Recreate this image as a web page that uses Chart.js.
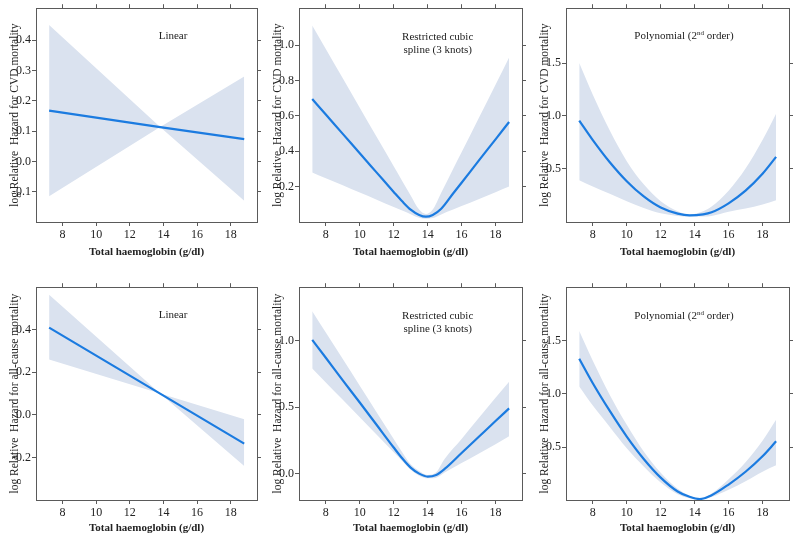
<!DOCTYPE html>
<html lang="en">
<head>
    <meta charset="UTF-8">
    <title>Haemoglobin and mortality</title>
    <script src="https://cdn.jsdelivr.net/npm/chart.js"></script>
    <style>
        body {
            margin: 0;
            background: #fff;
            width: 795px;
            height: 539px;
            position: relative;
            overflow: hidden;
        }
        .panel {
            position: absolute;
        }
    </style>
</head>
<body>
    <div class="panel" id="p1" style="left:0px;top:0px;width:263px;height:270px"><canvas id="c1"></canvas></div>
    <div class="panel" id="p2" style="left:263px;top:0px;width:265px;height:270px"><canvas id="c2"></canvas></div>
    <div class="panel" id="p3" style="left:530px;top:0px;width:265px;height:270px"><canvas id="c3"></canvas></div>
    <div class="panel" id="p4" style="left:0px;top:279px;width:263px;height:260px"><canvas id="c4"></canvas></div>
    <div class="panel" id="p5" style="left:263px;top:279px;width:265px;height:260px"><canvas id="c5"></canvas></div>
    <div class="panel" id="p6" style="left:530px;top:279px;width:265px;height:260px"><canvas id="c6"></canvas></div>

    <script>
        // x ticks shared by all panels
        const hbTicks = [8, 10, 12, 14, 16, 18];

        // CVD mortality - linear
        const cvdLinX = [7.2, 13.8, 18.8];
        const cvdLinFit = [0.167, 0.113, 0.073];
        const cvdLinLo = [-0.115, 0.113, -0.13];
        const cvdLinHi = [0.45, 0.113, 0.28];
        const cvdLinTicks = [-0.1, 0.0, 0.1, 0.2, 0.3, 0.4];

        // CVD mortality - restricted cubic spline
        const cvdRcsX = [7.2, 8, 9, 10, 11, 12, 12.5, 13, 13.5, 13.9, 14.3, 14.8, 15.5, 16, 17, 18, 18.8];
        const cvdRcsFit = [0.695, 0.607, 0.498, 0.388, 0.279, 0.17, 0.117, 0.07, 0.04, 0.03, 0.04, 0.075, 0.161, 0.222, 0.345, 0.467, 0.565];
        const cvdRcsHi = [1.11, 0.978, 0.812, 0.646, 0.48, 0.315, 0.232, 0.15, 0.07, 0.045, 0.07, 0.165, 0.30, 0.394, 0.585, 0.776, 0.93];
        const cvdRcsLo = [0.28, 0.247, 0.207, 0.166, 0.126, 0.085, 0.065, 0.044, 0.024, 0.018, 0.022, 0.043, 0.07, 0.09, 0.129, 0.168, 0.2];
        const cvdRcsTicks = [0.2, 0.4, 0.6, 0.8, 1.0];

        // CVD mortality - polynomial
        const cvdPolyX = [7.2, 8, 9, 10, 11, 12, 13, 13.7, 14.5, 15, 16, 17, 18, 18.8];
        const cvdPolyFit = [0.955, 0.77, 0.56, 0.38, 0.235, 0.13, 0.072, 0.055, 0.065, 0.085, 0.17, 0.29, 0.45, 0.61];
        const cvdPolyHi = [1.50, 1.20, 0.86, 0.57, 0.35, 0.19, 0.095, 0.065, 0.095, 0.14, 0.29, 0.50, 0.77, 1.02];
        const cvdPolyLo = [0.39, 0.33, 0.26, 0.19, 0.125, 0.075, 0.05, 0.045, 0.045, 0.05, 0.09, 0.12, 0.16, 0.20];
        const cvdPolyTicks = [0.5, 1.0, 1.5];

        // all-cause mortality - linear
        const allLinX = [7.2, 13.8, 18.8];
        const allLinFit = [0.41, 0.10, -0.135];
        const allLinLo = [0.26, 0.10, -0.24];
        const allLinHi = [0.565, 0.10, -0.02];
        const allLinTicks = [-0.2, 0.0, 0.2, 0.4];

        // all-cause mortality - restricted cubic spline
        const allRcsX = [7.2, 8, 9, 10, 11, 12, 12.5, 13, 13.5, 14, 14.5, 15, 16, 17, 18, 18.8];
        const allRcsFit = [1.005, 0.87, 0.70, 0.534, 0.365, 0.196, 0.115, 0.045, 0.0, -0.022, -0.01, 0.035, 0.155, 0.275, 0.395, 0.49];
        const allRcsHi = [1.22, 1.06, 0.86, 0.66, 0.46, 0.26, 0.16, 0.07, 0.02, -0.01, 0.01, 0.11, 0.26, 0.415, 0.57, 0.69];
        const allRcsLo = [0.79, 0.685, 0.554, 0.423, 0.292, 0.16, 0.095, 0.03, -0.015, -0.035, -0.03, 0.008, 0.08, 0.15, 0.22, 0.28];
        const allRcsTicks = [0.0, 0.5, 1.0];

        // all-cause mortality - polynomial
        const allPolyX = [7.2, 8, 9, 10, 11, 12, 13, 13.7, 14.3, 15, 16, 17, 18, 18.8];
        const allPolyFit = [1.33, 1.10, 0.84, 0.60, 0.39, 0.215, 0.085, 0.035, 0.014, 0.05, 0.15, 0.27, 0.415, 0.555];
        const allPolyHi = [1.59, 1.31, 0.99, 0.71, 0.46, 0.26, 0.11, 0.045, 0.02, 0.067, 0.2, 0.36, 0.56, 0.757];
        const allPolyLo = [1.07, 0.89, 0.69, 0.49, 0.32, 0.17, 0.06, 0.022, 0.008, 0.033, 0.1, 0.18, 0.27, 0.33];
        const allPolyTicks = [0.5, 1.0, 1.5];

        const SERIF = "'Liberation Serif', 'Times New Roman', serif";
        const FRAME = '#5a5a5a';
        const BAND = '#dae2ef';
        const LINE = '#1b7be0';

        function pts(xs, ys) {
            return xs.map((x, i) => ({ x: x, y: ys[i] }));
        }

        // draws the model name inside the panel
        const notePlugin = {
            id: 'panelNote',
            afterDatasetsDraw(chart, args, opts) {
                const { ctx, chartArea } = chart;
                const cx = chartArea.left + chartArea.width * opts.rx;
                ctx.save();
                ctx.fillStyle = '#222';
                ctx.textBaseline = 'middle';
                opts.lines.forEach((parts, li) => {
                    const y = chartArea.top + opts.dy + li * 13.4;
                    let w = 0;
                    parts.forEach(p => {
                        ctx.font = (p.sup ? '7px ' : '11px ') + SERIF;
                        w += ctx.measureText(p.t).width;
                    });
                    let x = cx - w / 2;
                    parts.forEach(p => {
                        ctx.font = (p.sup ? '7px ' : '11px ') + SERIF;
                        ctx.textAlign = 'left';
                        ctx.fillText(p.t, x, p.sup ? y - 3 : y);
                        x += ctx.measureText(p.t).width;
                    });
                });
                ctx.restore();
            }
        };

        function makePanel(canvasId, p) {
            const edge = {
                display: true,
                drawOnChartArea: false,
                drawTicks: true,
                tickLength: 4,
                color: FRAME
            };
            const border = { display: true, color: FRAME, width: 1 };
            const curve = p.smooth ? 'monotone' : 'default';
            const tension = 0;
            new Chart(document.getElementById(canvasId), {
                type: 'line',
                data: {
                    datasets: [
                        {
                            // fitted curve, index 0 so it is drawn last (on top)
                            data: pts(p.x, p.fit),
                            borderColor: LINE,
                            borderWidth: 2.2,
                            pointRadius: 0,
                            fill: false,
                            tension: tension,
                            cubicInterpolationMode: curve
                        },
                        {
                            data: pts(p.x, p.hi),
                            borderWidth: 0,
                            borderColor: 'rgba(0,0,0,0)',
                            pointRadius: 0,
                            backgroundColor: BAND,
                            fill: '+1',
                            tension: tension,
                            cubicInterpolationMode: curve
                        },
                        {
                            data: pts(p.x, p.lo),
                            borderWidth: 0,
                            borderColor: 'rgba(0,0,0,0)',
                            pointRadius: 0,
                            backgroundColor: BAND,
                            fill: false,
                            tension: tension,
                            cubicInterpolationMode: curve
                        }
                    ]
                },
                options: {
                    responsive: true,
                    maintainAspectRatio: false,
                    animation: false,
                    layout: { padding: 0 },
                    plugins: {
                        legend: { display: false },
                        tooltip: { enabled: false },
                        panelNote: { lines: p.note, rx: p.noteX, dy: p.noteY }
                    },
                    scales: {
                        x: {
                            type: 'linear',
                            position: 'bottom',
                            min: 6.42,
                            max: 19.56,
                            afterBuildTicks: s => { s.ticks = hbTicks.map(v => ({ value: v })); },
                            afterFit: s => { s.height = p.xAxisH; },
                            grid: edge,
                            border: border,
                            ticks: {
                                color: '#222',
                                font: { family: SERIF, size: 12 },
                                padding: 2,
                                maxRotation: 0
                            },
                            title: {
                                display: true,
                                text: 'Total haemoglobin (g/dl)',
                                color: '#222',
                                font: { family: SERIF, size: 11, weight: 'bold' },
                                padding: { top: 0, bottom: p.xTitlePad }
                            }
                        },
                        x2: {
                            type: 'linear',
                            position: 'top',
                            min: 6.42,
                            max: 19.56,
                            afterBuildTicks: s => { s.ticks = hbTicks.map(v => ({ value: v })); },
                            afterFit: s => { s.height = 5; },
                            grid: edge,
                            border: border,
                            ticks: { display: false }
                        },
                        y: {
                            type: 'linear',
                            position: 'left',
                            min: p.yMin,
                            max: p.yMax,
                            afterBuildTicks: s => { s.ticks = p.ticks.map(v => ({ value: v })); },
                            afterFit: s => { s.width = 36; },
                            grid: edge,
                            border: border,
                            ticks: {
                                color: '#222',
                                font: { family: SERIF, size: 12 },
                                padding: 1,
                                callback: v => v.toFixed(1)
                            },
                            title: {
                                display: true,
                                text: p.yTitle,
                                color: '#222',
                                font: { family: SERIF, size: 11.5 },
                                padding: { top: 8, bottom: 0 }
                            }
                        },
                        y2: {
                            type: 'linear',
                            position: 'right',
                            min: p.yMin,
                            max: p.yMax,
                            afterBuildTicks: s => { s.ticks = p.ticks.map(v => ({ value: v })); },
                            afterFit: s => { s.width = 6; },
                            grid: edge,
                            border: border,
                            ticks: { display: false }
                        }
                    }
                },
                plugins: [notePlugin]
            });
        }

        const cvdTitle = 'log Relative  Hazard for CVD mortality';
        const allTitle = 'log Relative  Hazard for all-cause mortality';
        const linNote = [[{ t: 'Linear' }]];
        const rcsNote = [[{ t: 'Restricted cubic' }], [{ t: 'spline (3 knots)' }]];
        const polyNote = [[{ t: 'Polynomial (2' }, { t: 'nd', sup: true }, { t: ' order)' }]];

        const topRow = { xAxisH: 48, xTitlePad: 11 };
        const bottomRow = { xAxisH: 39, xTitlePad: 4 };

        makePanel('c1', Object.assign({
            x: cvdLinX, fit: cvdLinFit, hi: cvdLinHi, lo: cvdLinLo, ticks: cvdLinTicks, smooth: false,
            yMin: -0.2, yMax: 0.505, yTitle: cvdTitle, note: linNote, noteX: 0.62, noteY: 28
        }, topRow));
        makePanel('c2', Object.assign({
            x: cvdRcsX, fit: cvdRcsFit, hi: cvdRcsHi, lo: cvdRcsLo, ticks: cvdRcsTicks, smooth: true,
            yMin: 0.0, yMax: 1.208, yTitle: cvdTitle, note: rcsNote, noteX: 0.622, noteY: 29
        }, topRow));
        makePanel('c3', Object.assign({
            x: cvdPolyX, fit: cvdPolyFit, hi: cvdPolyHi, lo: cvdPolyLo, ticks: cvdPolyTicks, smooth: true,
            yMin: -0.007, yMax: 2.02, yTitle: cvdTitle, note: polyNote, noteX: 0.529, noteY: 28
        }, topRow));
        makePanel('c4', Object.assign({
            x: allLinX, fit: allLinFit, hi: allLinHi, lo: allLinLo, ticks: allLinTicks, smooth: false,
            yMin: -0.4, yMax: 0.6, yTitle: allTitle, note: linNote, noteX: 0.62, noteY: 28
        }, bottomRow));
        makePanel('c5', Object.assign({
            x: allRcsX, fit: allRcsFit, hi: allRcsHi, lo: allRcsLo, ticks: allRcsTicks, smooth: true,
            yMin: -0.198, yMax: 1.40, yTitle: allTitle, note: rcsNote, noteX: 0.622, noteY: 29
        }, bottomRow));
        makePanel('c6', Object.assign({
            x: allPolyX, fit: allPolyFit, hi: allPolyHi, lo: allPolyLo, ticks: allPolyTicks, smooth: true,
            yMin: 0.005, yMax: 2.0, yTitle: allTitle, note: polyNote, noteX: 0.529, noteY: 29
        }, bottomRow));
    </script>
</body>
</html>
